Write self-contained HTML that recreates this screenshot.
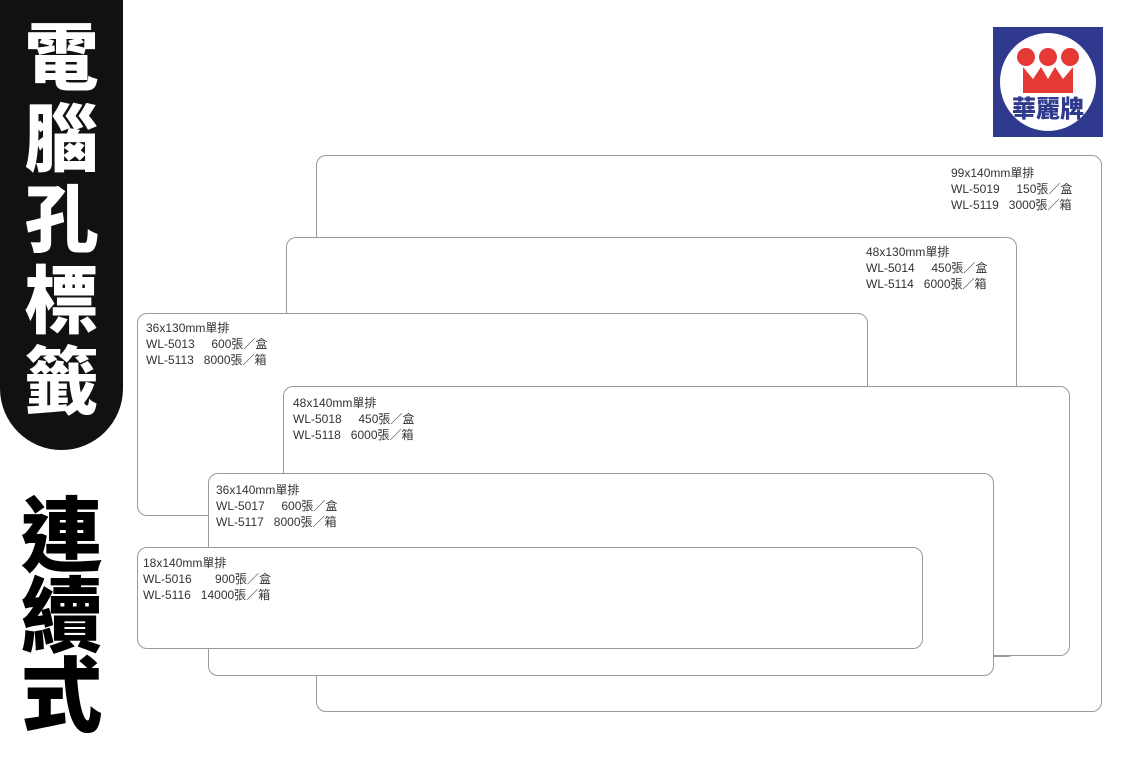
<!DOCTYPE html>
<html><head><meta charset="utf-8"><style>
body{margin:0;width:1127px;height:784px;background:#fff;position:relative;overflow:hidden;font-family:"Liberation Sans","Noto Sans CJK TC",sans-serif}
.tab{position:absolute;left:0;top:-60px;width:123px;height:510px;background:#111;border-radius:0 0 62px 62px}
.vt{position:absolute;left:0;width:123px;text-align:center;font-family:"Noto Sans CJK TC",sans-serif;font-weight:900}
.card{position:absolute;background:#fff;border:1.2px solid #999;border-radius:10px;box-sizing:border-box}
.lbl{position:absolute;font-size:12px;line-height:16px;color:#333;white-space:pre}
</style></head><body>
<div class="tab"></div>
<div class="vt" style="top:12px;color:#fff;font-size:74px;line-height:81px">電<br>腦<br>孔<br>標<br>籤</div>
<div class="vt" style="top:490px;color:#000;font-size:82px;line-height:80px">連<br>續<br>式</div>

<div style="position:absolute;left:993px;top:27px;width:110px;height:110px;background:#2f3a8f"></div>
<div style="position:absolute;left:1000px;top:33px;width:96px;height:98px;background:#fff;border-radius:50%"></div>
<svg style="position:absolute;left:993px;top:27px" width="110" height="110">
<path d="M30 40 L30 66 L80 66 L80 40 L70 52 L62 40 L55 52 L48 40 L40 52 Z" fill="#e53935"/>
<circle cx="33" cy="30" r="9" fill="#e53935"/><circle cx="55" cy="30" r="9" fill="#e53935"/><circle cx="77" cy="30" r="9" fill="#e53935"/>
<text x="55" y="90" text-anchor="middle" font-family="Noto Sans CJK TC" font-weight="900" font-size="24" fill="#2f3a8f">華麗牌</text>
</svg>

<div class="card" style="left:316px;top:155px;width:786px;height:557px"></div>
<div class="lbl" style="left:951px;top:165px">99x140mm單排
WL-5019     150張／盒
WL-5119   3000張／箱</div>
<div class="card" style="left:286px;top:237px;width:731px;height:420px"></div>
<div class="lbl" style="left:866px;top:244px">48x130mm單排
WL-5014     450張／盒
WL-5114   6000張／箱</div>
<div class="card" style="left:137px;top:313px;width:731px;height:203px"></div>
<div class="lbl" style="left:146px;top:320px">36x130mm單排
WL-5013     600張／盒
WL-5113   8000張／箱</div>
<div class="card" style="left:283px;top:386px;width:787px;height:270px"></div>
<div class="lbl" style="left:293px;top:395px">48x140mm單排
WL-5018     450張／盒
WL-5118   6000張／箱</div>
<div class="card" style="left:208px;top:473px;width:786px;height:203px"></div>
<div class="lbl" style="left:216px;top:482px">36x140mm單排
WL-5017     600張／盒
WL-5117   8000張／箱</div>
<div class="card" style="left:137px;top:547px;width:786px;height:102px"></div>
<div class="lbl" style="left:143px;top:555px">18x140mm單排
WL-5016       900張／盒
WL-5116   14000張／箱</div>
</body></html>
